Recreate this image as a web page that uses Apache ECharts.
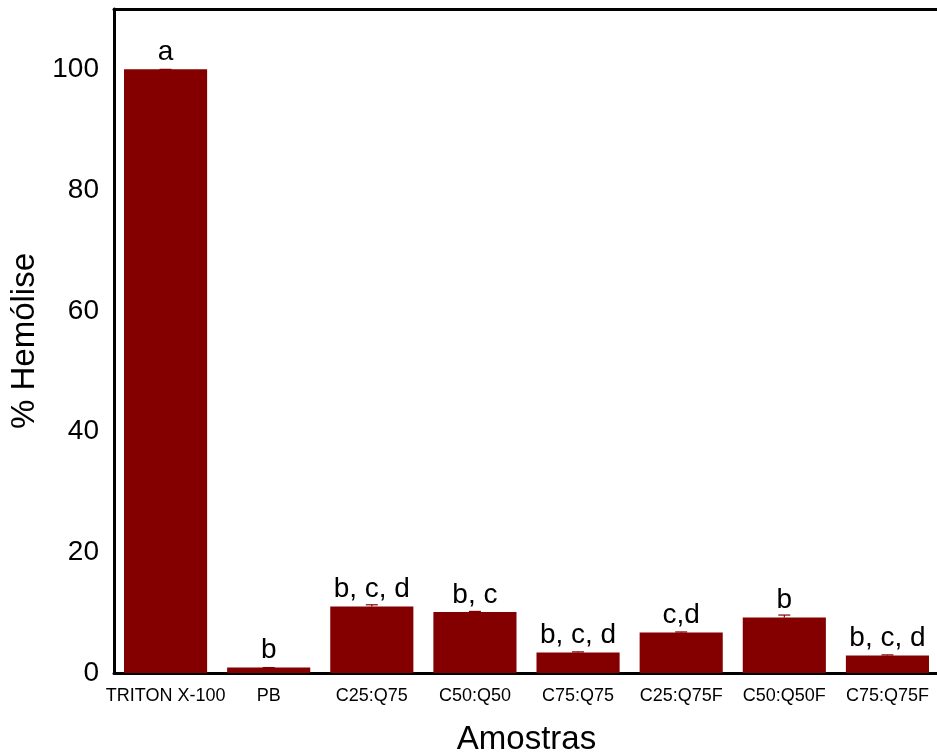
<!DOCTYPE html>
<html>
<head>
<meta charset="utf-8">
<script src="https://cdn.jsdelivr.net/npm/echarts@6/dist/echarts.min.js"></script>
<style>
  html, body { margin: 0; padding: 0; background: #fff; }
  #chart { width: 937px; height: 756px; }
</style>
</head>
<body>
<div id="chart"></div>
<script>
// amostras e valores
const categories = ['TRITON X-100', 'PB', 'C25:Q75', 'C50:Q50', 'C75:Q75', 'C25:Q75F', 'C50:Q50F', 'C75:Q75F']
const values = [100, 0.9, 11.0, 10.1, 3.4, 6.7, 9.2, 2.9]
const errors = [0, 0, 0.3, 0.1, 0.1, 0.1, 0.4, 0.1]
const letters = ['a', 'b', 'b, c, d', 'b, c', 'b, c, d', 'c,d', 'b', 'b, c, d']

const barColor = '#840000'
const font = '"Liberation Sans", Arial, sans-serif'

const myChart = echarts.init(document.getElementById('chart'))

const option = {
  backgroundColor: '#fff',
  animation: false,
  grid: { left: 114, top: 9, width: 825, height: 664, outerBoundsMode: 'none' },
  xAxis: [
    {
      type: 'category',
      data: categories,
      name: 'Amostras',
      nameLocation: 'middle',
      nameGap: 50,
      nameTextStyle: { fontSize: 33, color: '#000', fontFamily: font },
      axisLine: { lineStyle: { color: '#000', width: 3 } },
      axisTick: { show: false },
      axisLabel: { fontSize: 18, color: '#000', fontFamily: font, margin: 14, interval: 0 },
    },
    {
      // linha do topo da moldura
      type: 'category',
      data: categories,
      position: 'top',
      axisLine: { lineStyle: { color: '#000', width: 3 } },
      axisTick: { show: false },
      axisLabel: { show: false },
    },
  ],
  yAxis: {
    type: 'value',
    min: 0,
    max: 110,
    interval: 20,
    name: '% Hemólise',
    nameLocation: 'middle',
    nameGap: 63,
    nameTextStyle: { fontSize: 33, color: '#000', fontFamily: font },
    axisLine: { show: true, lineStyle: { color: '#000', width: 3 } },
    axisTick: { show: false },
    splitLine: { show: false },
    axisLabel: { fontSize: 28, color: '#000', fontFamily: font, margin: 15, showMaxLabel: false },
  },
  series: [
    {
      type: 'bar',
      data: values,
      barCategoryGap: '19.4%',
      itemStyle: { color: barColor },
      label: {
        show: true,
        position: 'top',
        distance: 3,
        fontSize: 28,
        color: '#000',
        fontFamily: font,
        formatter: (p) => letters[p.dataIndex],
      },
      z: 2,
    },
    {
      // barras de erro (só para cima)
      type: 'custom',
      data: values.map((v, i) => [i, v, v + errors[i]]),
      renderItem: function (params, api) {
        const base = api.coord([api.value(0), api.value(1)])
        const top = api.coord([api.value(0), api.value(2)])
        const half = 6
        const style = { stroke: barColor, lineWidth: 1.2 }
        return {
          type: 'group',
          children: [
            { type: 'line', shape: { x1: base[0], y1: base[1], x2: top[0], y2: top[1] }, style: style },
            { type: 'line', shape: { x1: top[0] - half, y1: top[1], x2: top[0] + half, y2: top[1] }, style: style },
          ],
        }
      },
      z: 3,
    },
  ],
}

myChart.setOption(option)
</script>
</body>
</html>
